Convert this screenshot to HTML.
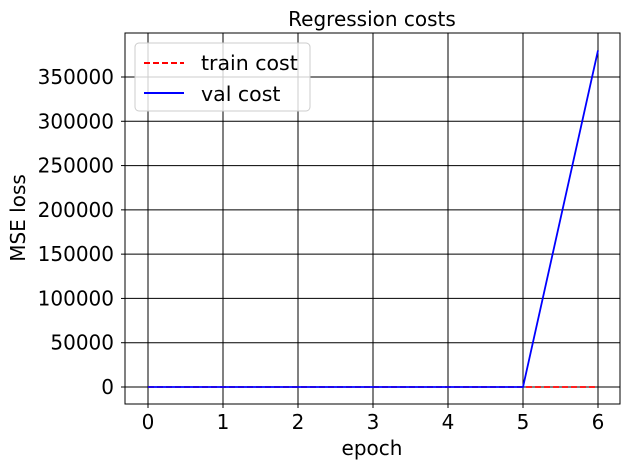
<!DOCTYPE html>
<html><head><meta charset="utf-8"><style>
body{margin:0;background:#fff;}
text{font-family:"DejaVu Sans","Liberation Sans",sans-serif;fill:#000;}
</style></head><body>
<svg id="chart" width="630" height="469" xmlns="http://www.w3.org/2000/svg">
<text x="372" y="26" font-size="20" text-anchor="middle">Regression costs</text>
<g id="grid"></g>
<g id="series"></g>
<rect x="125" y="33" width="495" height="371" fill="none" stroke="#000" stroke-width="1"/>
<g id="axes"></g>
<text x="372" y="455" font-size="20" text-anchor="middle">epoch</text>
<text transform="translate(25,218) rotate(-90)" font-size="20" text-anchor="middle">MSE loss</text>
<g>
<rect x="135" y="43" width="175" height="68" rx="4" fill="#fff" fill-opacity="0.8" stroke="#ccc"/>
<g>
<line x1="144" y1="63" x2="184" y2="63" stroke="red" stroke-width="2" stroke-dasharray="6,3"/>
<text x="201" y="70" font-size="20.5">train cost</text></g>
<g>
<line x1="144" y1="93" x2="184" y2="93" stroke="blue" stroke-width="2"/>
<text x="201" y="101" font-size="20.5">val cost</text></g>
</g>
</svg>
<script>
const epochs=[0,1,2,3,4,5,6];
const trainCost=[0,0,0,0,0,0,0];
const valCost=[0,0,0,0,0,0,380000];
const yTicks=[0,50000,100000,150000,200000,250000,300000,350000];
const NS="http://www.w3.org/2000/svg";
const xs=v=>148+v*75;
const ys=v=>387-v*310/350000;
const grid=document.getElementById('grid'),axes=document.getElementById('axes'),ser=document.getElementById('series');
function mk(tag,attrs,parent){const e=document.createElementNS(NS,tag);for(const k in attrs)e.setAttribute(k,attrs[k]);parent.appendChild(e);return e;}
epochs.forEach(v=>{
 const l=mk('line',{x1:xs(v),x2:xs(v),y1:33,y2:404,stroke:'#000','stroke-width':1},grid);
 
 
 mk('line',{x1:xs(v),x2:xs(v),y1:404,y2:408,stroke:'#000'},axes);
 const t=mk('text',{x:xs(v),y:429,'font-size':20,'text-anchor':'middle'},axes);t.textContent=v;
 
 
});
yTicks.forEach(v=>{
 const l=mk('line',{x1:125,x2:620,y1:ys(v),y2:ys(v),stroke:'#000','stroke-width':1},grid);
 
 
 mk('line',{x1:121,x2:125,y1:ys(v),y2:ys(v),stroke:'#000'},axes);
 const t=mk('text',{x:114,y:ys(v)+7,'font-size':20,'text-anchor':'end'},axes);t.textContent=v;
 
 
});
const tp=mk('polyline',{points:epochs.map((e,i)=>xs(e)+','+ys(trainCost[i])).join(' '),fill:'none',stroke:'red','stroke-width':1.8,'stroke-dasharray':'6,3'},ser);


const vp=mk('polyline',{points:epochs.map((e,i)=>xs(e)+','+ys(valCost[i])).join(' '),fill:'none',stroke:'blue','stroke-width':1.8},ser);


</script>
</body></html>
